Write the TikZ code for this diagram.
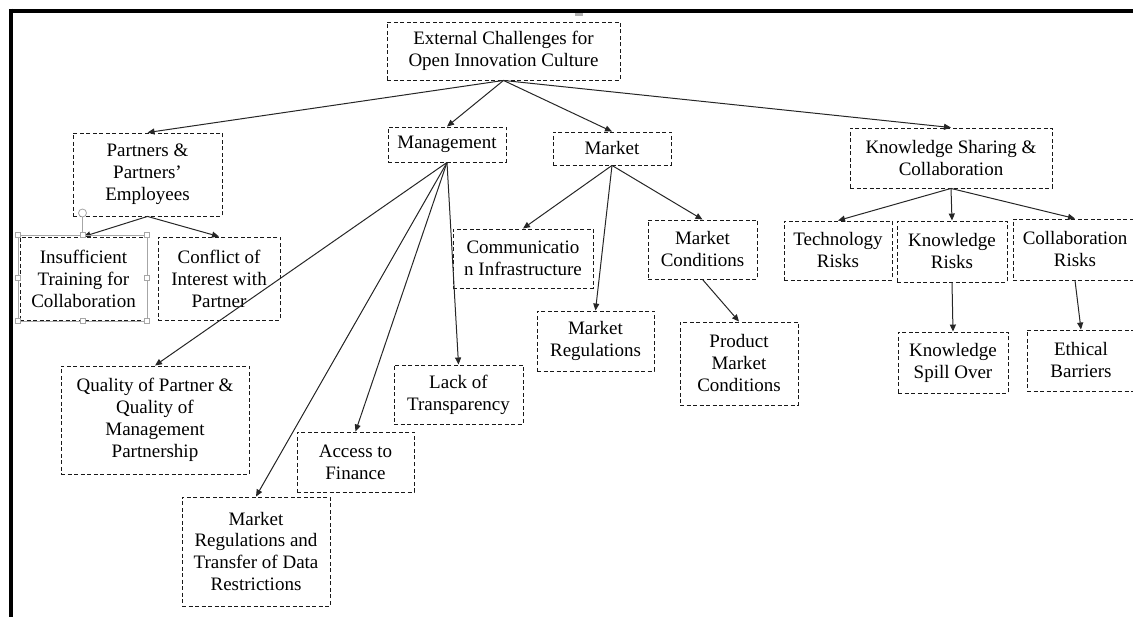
\documentclass[tikz,border=0pt]{standalone}
\usepackage{fontspec}
\setmainfont{Liberation Serif}
\usetikzlibrary{arrows.meta}
\begin{document}
\begin{tikzpicture}[x=1pt,y=-1pt,
  box/.style={draw=black!90, line width=0.9pt, dash pattern=on 4pt off 2.5pt,
    inner sep=0pt, align=center, font=\fontsize{19}{22}\selectfont, text=black},
  link/.style={draw=black!85, line width=1pt, -{Triangle[length=7pt,width=6pt]}},
  handle/.style={draw=black!35, fill=white, line width=0.8pt},
  frameline/.style={line width=4.5pt, black}
]
\useasboundingbox (0,0) rectangle (1133,617);
\clip (0,0) rectangle (1133,617);

% outer frame (top and left edges)
\draw[frameline] (8.75,11) -- (1140,11);
\draw[frameline] (11,8.75) -- (11,625);
\fill[black!30] (575,13) rectangle (583,16);

% boxes
\node[box, minimum width=233pt, minimum height=58pt] (root) at (503.5,51)
  {External Challenges for\\Open Innovation Culture};
\node[box, minimum width=149pt, minimum height=83pt] (part) at (147.5,174.5)
  {Partners \&\\Partners'\\Employees};
\node[box, minimum width=118pt, minimum height=35pt] (mgmt) at (447,144.5) {Management};
\node[box, minimum width=118pt, minimum height=33pt] (mkt) at (612,148.5) {Market};
\node[box, minimum width=202pt, minimum height=60pt] (ks) at (951,158)
  {Knowledge Sharing \&\\Collaboration};

\node[box, minimum width=127pt, minimum height=83pt] (ins) at (83.5,278.5)
  {Insufficient\\Training for\\Collaboration};
\node[box, minimum width=122pt, minimum height=83pt] (con) at (219,278.5)
  {Conflict of\\Interest with\\Partner};

\node[box, minimum width=188pt, minimum height=108pt] (qual) at (155,420)
  {Quality of Partner \&\\Quality of\\Management\\Partnership};
\node[box, minimum width=148pt, minimum height=109pt] (mrt) at (256,551.5)
  {Market\\Regulations and\\Transfer of Data\\Restrictions};
\node[box, minimum width=117pt, minimum height=60pt] (acc) at (355.5,462)
  {Access to\\Finance};
\node[box, minimum width=129pt, minimum height=59pt] (lack) at (458.5,394.5)
  {Lack of\\Transparency};

\node[box, minimum width=140pt, minimum height=59pt] (com) at (523,258.5)
  {Communicatio\\n Infrastructure};
\node[box, minimum width=117pt, minimum height=60pt] (mreg) at (595.5,341)
  {Market\\Regulations};
\node[box, minimum width=109pt, minimum height=59pt] (mcond) at (702.5,249.5)
  {Market\\Conditions};
\node[box, minimum width=118pt, minimum height=83pt] (prod) at (739,363.5)
  {Product\\Market\\Conditions};

\node[box, minimum width=108pt, minimum height=59pt] (tech) at (838,250.5)
  {Technology\\Risks};
\node[box, minimum width=110pt, minimum height=61pt] (kr) at (952,251.5)
  {Knowledge\\Risks};
\node[box, minimum width=124pt, minimum height=61pt] (col) at (1075,249.5)
  {Collaboration\\Risks};
\node[box, minimum width=110pt, minimum height=61pt] (spill) at (953,362.5)
  {Knowledge\\Spill Over};
\node[box, minimum width=108pt, minimum height=61pt] (eth) at (1081,360.5)
  {Ethical\\Barriers};

% connectors
\draw[link] (root.south) -- (part.north);
\draw[link] (root.south) -- (mgmt.north);
\draw[link] (root.south) -- (mkt.north);
\draw[link] (root.south) -- (ks.north);

\draw[link] (part.south) -- (ins.north);
\draw[link] (part.south) -- (con.north);

\draw[link] (mgmt.south) -- (qual.north);
\draw[link] (mgmt.south) -- (mrt.north);
\draw[link] (mgmt.south) -- (acc.north);
\draw[link] (mgmt.south) -- (lack.north);

\draw[link] (mkt.south) -- (com.north);
\draw[link] (mkt.south) -- (mreg.north);
\draw[link] (mkt.south) -- (mcond.north);
\draw[link] (mcond.south) -- (prod.north);

\draw[link] (ks.south) -- (tech.north);
\draw[link] (ks.south) -- (kr.north);
\draw[link] (ks.south) -- (col.north);
\draw[link] (kr.south) -- (spill.north);
\draw[link] (col.south) -- (eth.north);

% selection frame with handles around the training box
\draw[black!35, line width=0.8pt] (18,235) rectangle (147,321);
\draw[black!35, line width=0.8pt] (82.5,217) -- (82.5,235);
\draw[handle] (82.5,213) circle (4pt);
\foreach \hx/\hy in {18/235, 82.5/235, 147/235, 18/278, 147/278, 18/321, 82.5/321, 147/321}
  \draw[handle] (\hx-2.5,\hy-2.5) rectangle (\hx+2.5,\hy+2.5);
\end{tikzpicture}
\end{document}
